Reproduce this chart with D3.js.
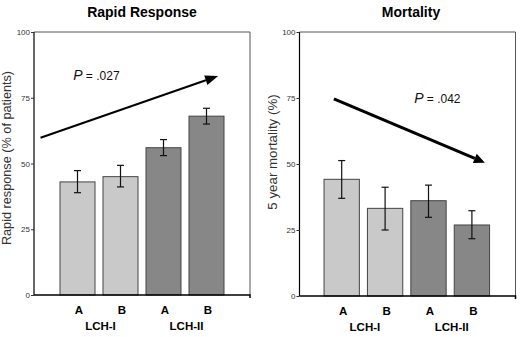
<!DOCTYPE html>
<html><head><meta charset="utf-8">
<script src="https://cdn.jsdelivr.net/npm/d3@7"></script>
<style>
html,body{margin:0;padding:0;background:#fff;}
svg{display:block;font-family:Arial,"Liberation Sans",sans-serif;}
</style></head>
<body><svg id="c" width="520" height="337"></svg>
<script>
// ---- data ----
const categories = ["A", "B", "A", "B"];
const groupLabels = ["LCH-I", "LCH-II"];
const groupOf = [0, 0, 1, 1];
const yTicks = [0, 25, 50, 75, 100];

const rapidValues = [43, 45, 56, 68];
const rapidLow = [38.9, 41.1, 53.0, 65.0];
const rapidHigh = [47.3, 49.3, 59.1, 71.0];
const rapidArrow = [[-0.86, 59.8], [3.27, 83.3]];
const rapidP = [-0.1, 81.7, ".027"];

const mortValues = [44.2, 33.2, 36.1, 26.9];
const mortLow = [37.0, 25.0, 29.8, 21.7];
const mortHigh = [51.3, 41.2, 42.0, 32.3];
const mortArrow = [[-0.18, 74.7], [3.3, 50.5]];
const mortP = [1.67, 73.2, ".042"];

const svg = d3.select("#c");
const lightFill = "#c9c9c9", darkFill = "#878787";

function panel(o) {
  const g = svg.append("g");
  const y = d3.scaleLinear().domain([0, 100]).range([o.bottom, o.top]);
  const x = d3.scaleBand().domain(d3.range(categories.length))
    .range(o.barRange).paddingInner(0.186).paddingOuter(0.093);
  const bw = x.bandwidth();
  const xc = d3.scaleLinear().domain([0, 1]).range([x(0) + bw / 2, x(1) + bw / 2]);

  // frame (top + right)
  g.append("path").attr("d", `M${o.left},${o.top}H${o.right}V${o.bottom}`)
    .attr("fill", "none").attr("stroke", "#555").attr("stroke-width", 1);

  // y axis
  const ya = d3.axisLeft(y).tickValues(yTicks).tickSize(3).tickPadding(1);
  const yg = g.append("g").attr("transform", `translate(${o.left},0)`).call(ya);
  yg.select(".domain").attr("stroke", "#000").attr("stroke-width", 1.2).attr("d", `M0,${o.top}V${o.bottom}`);
  yg.selectAll(".tick line").attr("stroke", "#333");
  yg.selectAll(".tick text").attr("font-size", 8).attr("fill", "#333").attr("font-family", "Arial, Liberation Sans, sans-serif");

  // bars
  g.selectAll("rect.bar").data(o.values).join("rect")
    .attr("x", (d, i) => x(i)).attr("width", bw)
    .attr("y", d => y(d)).attr("height", d => y(0) - y(d))
    .attr("fill", (d, i) => groupOf[i] === 0 ? lightFill : darkFill)
    .attr("stroke", "#444").attr("stroke-width", 1);

  // x axis line
  g.append("path").attr("d", `M${o.left},${o.bottom}H${o.right}v3`)
    .attr("fill", "none").attr("stroke", "#000").attr("stroke-width", 1.5);

  // error bars
  const eb = g.selectAll("g.err").data(o.values).join("g")
    .attr("stroke", "#111").attr("stroke-width", 1.2);
  eb.append("line").attr("x1", (d, i) => x(i) + bw / 2).attr("x2", (d, i) => x(i) + bw / 2)
    .attr("y1", (d, i) => y(o.low[i])).attr("y2", (d, i) => y(o.high[i]));
  eb.append("line").attr("x1", (d, i) => x(i) + bw / 2 - 3.5).attr("x2", (d, i) => x(i) + bw / 2 + 3.5)
    .attr("y1", (d, i) => y(o.low[i])).attr("y2", (d, i) => y(o.low[i]));
  eb.append("line").attr("x1", (d, i) => x(i) + bw / 2 - 3.5).attr("x2", (d, i) => x(i) + bw / 2 + 3.5)
    .attr("y1", (d, i) => y(o.high[i])).attr("y2", (d, i) => y(o.high[i]));

  // arrow
  const x1 = xc(o.arrow[0][0]), y1 = y(o.arrow[0][1]);
  const x2 = xc(o.arrow[1][0]), y2 = y(o.arrow[1][1]);
  const ang = Math.atan2(y2 - y1, x2 - x1);
  const hl = o.headLen, hw = o.headW;
  const bx = x2 - hl * Math.cos(ang), by = y2 - hl * Math.sin(ang);
  g.append("line").attr("x1", x1).attr("y1", y1).attr("x2", bx).attr("y2", by)
    .attr("stroke", "#000").attr("stroke-width", o.arrowW);
  g.append("path").attr("d",
    `M${x2},${y2}L${bx + hw * Math.sin(ang)},${by - hw * Math.cos(ang)}L${bx - hw * Math.sin(ang)},${by + hw * Math.cos(ang)}Z`)
    .attr("fill", "#000");

  // P label
  const pt = g.append("text").attr("x", xc(o.p[0])).attr("y", y(o.p[1])).attr("fill", "#111");
  pt.append("tspan").attr("font-style", "italic").attr("font-size", 14).text("P");
  pt.append("tspan").attr("font-size", 12).text(" = " + o.p[2]);

  // category labels
  g.selectAll("text.cat").data(categories).join("text")
    .attr("x", (d, i) => x(i) + bw / 2 + 1.5).attr("y", o.bottom + 19)
    .attr("text-anchor", "middle").attr("font-size", 11.5).attr("font-weight", "bold").text(d => d);
  groupLabels.forEach((lab, gi) => {
    const idx = d3.range(categories.length).filter(i => groupOf[i] === gi);
    const cx = d3.mean(idx, i => x(i) + bw / 2);
    g.append("text").attr("x", cx + 1.5).attr("y", o.bottom + 35)
      .attr("text-anchor", "middle").attr("font-size", 11.5).attr("font-weight", "bold").text(lab);
  });

  // title
  g.append("text").attr("x", o.titleX).attr("y", 17).attr("text-anchor", "middle")
    .attr("font-size", 14).attr("font-weight", "bold").text(o.title);

  // y label
  g.append("text").attr("transform", `translate(${o.ylabX},${o.ylabY}) rotate(-90)`)
    .attr("text-anchor", "middle").attr("font-size", o.ylabSize).attr("fill", "#333").text(o.ylabel);
}

panel({
  left: 34, right: 250, top: 32, bottom: 295, barRange: [56, 228],
  values: rapidValues, low: rapidLow, high: rapidHigh,
  arrow: rapidArrow, arrowW: 2, headLen: 13, headW: 5,
  p: rapidP, title: "Rapid Response", titleX: 142,
  ylabel: "Rapid response (% of patients)", ylabX: 11, ylabY: 158, ylabSize: 12.7
});
panel({
  left: 299.5, right: 515.5, top: 32, bottom: 296, barRange: [320, 493.6],
  values: mortValues, low: mortLow, high: mortHigh,
  arrow: mortArrow, arrowW: 3, headLen: 11, headW: 5,
  p: mortP, title: "Mortality", titleX: 411,
  ylabel: "5 year mortality (%)", ylabX: 277, ylabY: 152, ylabSize: 13.3
});
</script></body></html>
